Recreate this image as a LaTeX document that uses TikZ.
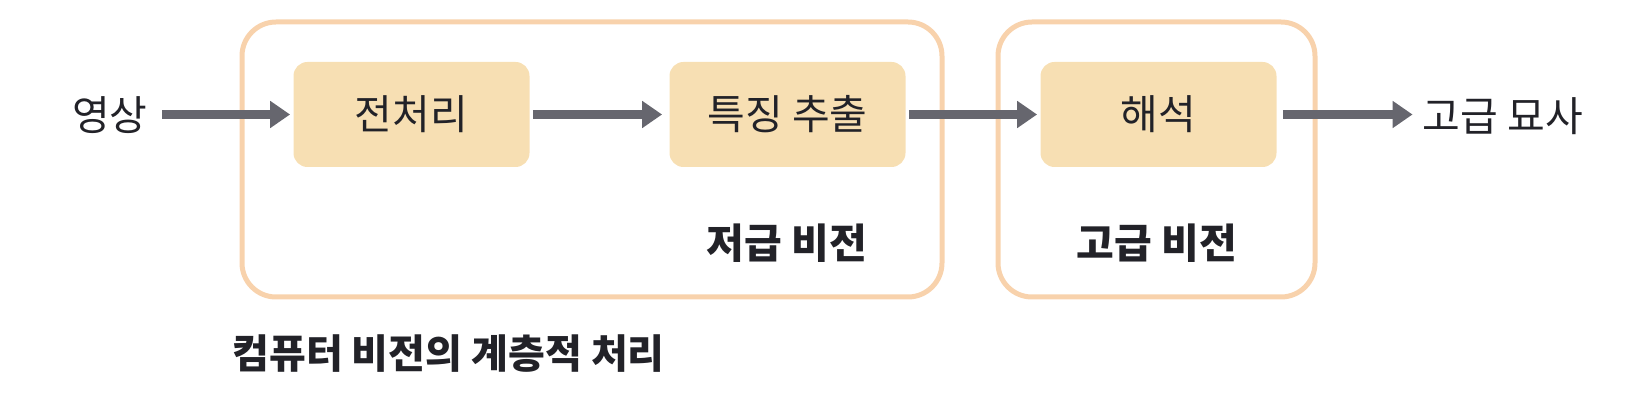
\documentclass[tikz,border=0pt]{standalone}
\usepackage{fontspec}
\setmainfont{Noto Sans CJK KR}
\usetikzlibrary{arrows.meta}
\definecolor{grpline}{HTML}{F8D2AC}
\definecolor{stagefill}{HTML}{F7DFB3}
\definecolor{flowgray}{HTML}{66666E}
\definecolor{inkdark}{HTML}{222228}

\begin{document}
\begin{tikzpicture}[x=0.5pt,y=-0.5pt,
    font=\fontsize{20.5}{24}\selectfont, text=inkdark,
    group/.style={draw=grpline, line width=2.5pt, rounded corners=17pt,
                  minimum height=137.5pt, inner sep=0pt},
    stage/.style={fill=stagefill, rounded corners=7pt, minimum width=118pt,
                  minimum height=52.5pt, inner sep=0pt},
    flow/.style={draw=flowgray, line width=4.5pt,
                 -{Triangle[length=10pt,width=13pt]}},
    lbl/.style={inner sep=0pt}]
        \useasboundingbox (0,0) rectangle (1630,411);
        \node[group, minimum width=350pt]   (low)  at (592,159.5)  {};
        \node[group, minimum width=158.5pt] (high) at (1156.5,159.5) {};
        \node[stage]  (pre)    at (411.5,114.5)  {전처리};
        \node[stage]  (feat)   at (787.5,114.5)  {특징 추출};
        \node[stage]  (interp) at (1158.5,114.5) {해석};
        \node[lbl]    (img)    at (110,115)      {영상};
        \node[lbl]    (out)    at (1503,116)     {고급 묘사};
        \node[lbl, font=\fontsize{20.5}{24}\selectfont\bfseries] (lowlab)  at (787,243)  {저급 비전};
        \node[lbl, font=\fontsize{20.5}{24}\selectfont\bfseries] (highlab) at (1157,243) {고급 비전};
        \node[lbl, anchor=west, font=\fontsize{20}{24}\selectfont\bfseries] (caption) at (232,354) {컴퓨터 비전의 계층적 처리};
        \draw[flow, shorten <=7pt, shorten >=1.5pt] (img.east |- pre.west) -- (pre.west);
        \draw[flow, shorten <=1.5pt, shorten >=3.5pt] (pre.east)  -- (feat.west);
        \draw[flow, shorten <=1.5pt, shorten >=1.5pt] (feat.east) -- (interp.west);
        \draw[flow, shorten <=3pt, shorten >=5pt] (interp.east) -- (interp.east -| out.west);
    \end{tikzpicture}
\end{document}
